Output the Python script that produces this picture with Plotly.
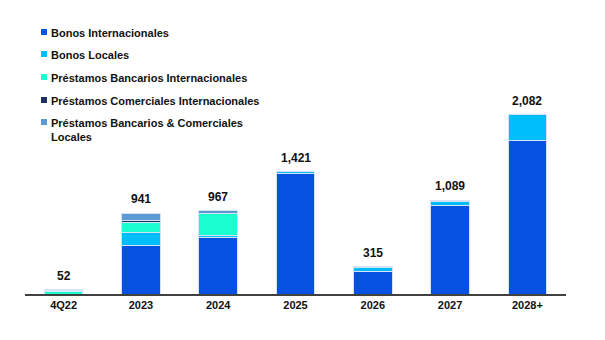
import plotly.graph_objects as go

categories = ["4Q22", "2023", "2024", "2025", "2026", "2027", "2028+"]
bonos_int = [0, 562, 660, 1400, 260, 1030, 1790]
bonos_loc = [0, 151, 25, 21, 50, 50, 292]
prest_banc_int = [25, 116, 250, 0, 5, 9, 0]
prest_com_int = [12, 23, 0, 0, 0, 0, 0]
prest_loc = [15, 89, 32, 0, 0, 0, 0]
totals = [52, 941, 967, 1421, 315, 1089, 2082]
total_labels = ["52", "941", "967", "1,421", "315", "1,089", "2,082"]

series_names = [
    "Bonos Internacionales",
    "Bonos Locales",
    "Préstamos Bancarios Internacionales",
    "Préstamos Comerciales Internacionales",
    "Préstamos Bancarios & Comerciales<br>Locales",
]
series_vals = [bonos_int, bonos_loc, prest_banc_int, prest_com_int, prest_loc]
colors = ["#0751E0", "#00BEFC", "#1AFDD0", "#1F3160", "#5C9AD6"]

W, H = 605, 340
ML, MR, MT, MB = 25, 39, 20, 46
PW, PH = W - ML - MR, H - MT - MB
YMAX = PH * 11.63
FONT = "Arial, Liberation Sans, sans-serif"

fig = go.Figure()
for name, vals, col in zip(series_names, series_vals, colors):
    fig.add_trace(go.Bar(
        x=categories, y=vals, name=name, marker_color=col,
        marker_line=dict(color="#D6E2F5", width=1),
        showlegend=False, hoverinfo="y",
    ))

for i, (t, lab) in enumerate(zip(totals, total_labels)):
    fig.add_annotation(x=i, y=t, text=lab, showarrow=False, yanchor="bottom",
                       yshift=5, font=dict(family=FONT, size=12, color="#111111", weight="bold"))

def px_x(px):
    return (px - ML) / PW

def px_y(py):
    return (H - MB - py) / PH

legend_y = [32, 54, 77, 100, 122]
for name, col, ly in zip(series_names, colors, legend_y):
    fig.add_shape(type="rect", xref="paper", yref="paper",
                  x0=px_x(41), x1=px_x(47), y0=px_y(ly + 3), y1=px_y(ly - 3),
                  fillcolor=col, line=dict(width=0))
    fig.add_annotation(xref="paper", yref="paper", x=px_x(49), y=px_y(ly - 7),
                       text=name, showarrow=False, xanchor="left", yanchor="top",
                       align="left",
                       font=dict(family=FONT, size=11, color="#111111", weight="bold"))

fig.update_layout(
    width=W, height=H, barmode="stack", bargap=0.5,
    margin=dict(l=ML, r=MR, t=MT, b=MB),
    plot_bgcolor="white", paper_bgcolor="white",
    font=dict(family=FONT),
    xaxis=dict(type="category", showline=True, linecolor="#404040", linewidth=1.5, ticks="",
               tickfont=dict(family=FONT, size=11, color="#111111", weight="bold"),
               showgrid=False, range=[-0.5, 6.5]),
    yaxis=dict(visible=False, range=[0, YMAX], showgrid=False),
)

fig.write_html("out.html")
